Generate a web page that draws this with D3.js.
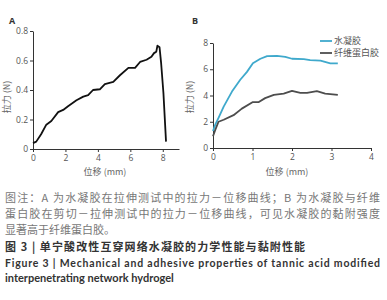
<!DOCTYPE html>
<html>
<head>
<meta charset="utf-8">
<script src="https://cdn.jsdelivr.net/npm/d3@7"></script>
<style>
  body { margin: 0; background: #fff; }
  svg { display: block; }
  .tick text { font-family: "Open Sans", "Noto Sans", sans-serif; font-size: 8.5px; fill: #555; }
  .tick line, .domain { stroke: #333; }
</style>
</head>
<body>
<svg id="fig" width="387" height="300"></svg>
<script>
// Panel A: tensile force vs displacement
var aX = [0, 0.2, 0.5, 0.82, 1.13, 1.55, 1.86, 2.16, 2.68, 3.1, 3.4, 3.7, 4.12, 4.43, 4.95, 5.36, 5.88, 6.29, 6.6, 7.0, 7.3, 7.46, 7.6, 7.67, 7.8, 7.9, 8.04, 8.2];
var aY = [0.04, 0.05, 0.10, 0.165, 0.19, 0.25, 0.265, 0.29, 0.33, 0.355, 0.365, 0.40, 0.405, 0.44, 0.455, 0.50, 0.55, 0.55, 0.59, 0.605, 0.625, 0.65, 0.66, 0.70, 0.69, 0.58, 0.38, 0.05];

// Panel B: shear-tensile force vs displacement
var bX = [0, 0.06, 0.14, 0.27, 0.48, 0.69, 0.86, 1.01, 1.2, 1.37, 1.62, 1.83, 2.0, 2.3, 2.46, 2.72, 2.97, 3.16];
var hydrogelY = [1.3, 1.8, 2.3, 3.15, 4.3, 5.2, 5.8, 6.45, 6.8, 7.0, 7.02, 6.95, 6.8, 6.77, 6.7, 6.65, 6.45, 6.45];
var fibrinX = [0, 0.06, 0.14, 0.27, 0.52, 0.73, 1.01, 1.16, 1.32, 1.54, 1.79, 2.0, 2.21, 2.38, 2.63, 2.84, 3.16];
var fibrinY = [0.9, 1.4, 2.0, 2.15, 2.5, 3.0, 3.5, 3.5, 3.8, 4.05, 4.15, 4.35, 4.2, 4.2, 4.33, 4.15, 4.05];

var aTicksX = [0, 2, 4, 6, 8];
var aTicksY = [0, 0.2, 0.4, 0.6, 0.8];
var bTicksX = [0, 1, 2, 3, 4];
var bTicksY = [0, 2, 4, 6, 8];
var seriesNames = ["水凝胶", "纤维蛋白胶"];
var seriesColors = ["#3fa9cc", "#4d4d4d"];

var captionLines = [
  "图注：A 为水凝胶在拉伸测试中的拉力－位移曲线；B 为水凝胶与纤维",
  "蛋白胶在剪切－拉伸测试中的拉力－位移曲线，可见水凝胶的黏附强度",
  "显著高于纤维蛋白胶。"
];
var titleCn = "图 3 | 单宁酸改性互穿网络水凝胶的力学性能与黏附性能";
var titleEn = ["Figure 3  |   Mechanical and adhesive properties of tannic acid modified", "interpenetrating network hydrogel"];

var svg = d3.select("#fig");
var cnFont = '"Noto Sans CJK SC", "Noto Sans", sans-serif';

// ---------- Panel A ----------
var xA = d3.scaleLinear().domain([0, 9]).range([33, 179]);
var yA = d3.scaleLinear().domain([0, 0.8]).range([149, 31]);

svg.append("g")
  .attr("transform", "translate(0," + yA(0) + ")")
  .call(d3.axisBottom(xA).tickValues(aTicksX).tickSize(3).tickSizeOuter(0).tickPadding(3)
    .tickFormat(d3.format("d")));
svg.append("g")
  .attr("transform", "translate(" + xA(0) + ",0)")
  .call(d3.axisLeft(yA).tickValues(aTicksY).tickSize(3).tickSizeOuter(0).tickPadding(2)
    .tickFormat(function(d) { return d === 0 ? "0" : d3.format(".1f")(d); }));

svg.append("path")
  .datum(d3.range(aX.length))
  .attr("fill", "none")
  .attr("stroke", "#111")
  .attr("stroke-width", 1.8)
  .attr("stroke-linejoin", "round")
  .attr("d", d3.line().x(function(i) { return xA(aX[i]); }).y(function(i) { return yA(aY[i]); }));

svg.append("text").attr("x", 9).attr("y", 24)
  .attr("font-family", "Open Sans, sans-serif").attr("font-weight", "bold")
  .attr("font-size", 9).attr("fill", "#333").text("A");

svg.append("text")
  .attr("transform", "translate(10,97) rotate(-90)")
  .attr("text-anchor", "middle").attr("font-family", cnFont)
  .attr("font-size", 9).attr("fill", "#666").text("拉力 (N)");

svg.append("text").attr("x", 105).attr("y", 175)
  .attr("text-anchor", "middle").attr("font-family", cnFont)
  .attr("font-size", 9).attr("fill", "#666").text("位移 (mm)");

// ---------- Panel B ----------
var xB = d3.scaleLinear().domain([0, 4]).range([213, 371]);
var yB = d3.scaleLinear().domain([0, 8]).range([148, 43]);

svg.append("g")
  .attr("transform", "translate(0," + yB(0) + ")")
  .call(d3.axisBottom(xB).tickValues(bTicksX).tickSize(3).tickSizeOuter(0).tickPadding(3)
    .tickFormat(d3.format("d")));
svg.append("g")
  .attr("transform", "translate(" + xB(0) + ",0)")
  .call(d3.axisLeft(yB).tickValues(bTicksY).tickSize(3).tickSizeOuter(0).tickPadding(2)
    .tickFormat(d3.format("d")));

var lineB = d3.line().x(function(d) { return xB(d[0]); }).y(function(d) { return yB(d[1]); });

svg.append("path")
  .datum(bX.map(function(v, i) { return [v, hydrogelY[i]]; }))
  .attr("fill", "none").attr("stroke", seriesColors[0]).attr("stroke-width", 1.8)
  .attr("stroke-linejoin", "round").attr("d", lineB);

svg.append("path")
  .datum(fibrinX.map(function(v, i) { return [v, fibrinY[i]]; }))
  .attr("fill", "none").attr("stroke", seriesColors[1]).attr("stroke-width", 1.8)
  .attr("stroke-linejoin", "round").attr("d", lineB);

svg.append("text").attr("x", 192).attr("y", 24)
  .attr("font-family", "Open Sans, sans-serif").attr("font-weight", "bold")
  .attr("font-size", 9).attr("fill", "#333").text("B");

svg.append("text")
  .attr("transform", "translate(193,97) rotate(-90)")
  .attr("text-anchor", "middle").attr("font-family", cnFont)
  .attr("font-size", 9).attr("fill", "#666").text("拉力 (N)");

svg.append("text").attr("x", 287).attr("y", 175)
  .attr("text-anchor", "middle").attr("font-family", cnFont)
  .attr("font-size", 9).attr("fill", "#666").text("位移 (mm)");

// Legend
var legend = svg.selectAll(".legend")
  .data(seriesNames)
  .enter()
  .append("g")
  .attr("class", "legend")
  .attr("transform", function(d, i) { return "translate(320," + (41 + i * 12) + ")"; });

legend.append("line")
  .attr("x1", 0).attr("x2", 12)
  .attr("stroke", function(d, i) { return seriesColors[i]; })
  .attr("stroke-width", 1.8);

legend.append("text")
  .attr("x", 14).attr("y", 3)
  .attr("font-family", cnFont).attr("font-size", 9).attr("fill", "#555")
  .text(function(d) { return d; });

// ---------- Caption ----------
var cap = svg.append("g");
captionLines.forEach(function(t, i) {
  var tx = cap.append("text")
    .attr("x", 5).attr("y", 202 + i * 16)
    .attr("font-family", cnFont).attr("font-size", 11).attr("fill", "#777")
    .text(t);
  if (i < 2) tx.attr("textLength", 375).attr("lengthAdjust", "spacing");
});

cap.append("text")
  .attr("x", 5).attr("y", 251)
  .attr("font-family", cnFont).attr("font-size", 11).attr("font-weight", "bold")
  .attr("fill", "#333").attr("textLength", 300).attr("lengthAdjust", "spacing")
  .text(titleCn);

// English title: Lato bold, second line sized so it ends where the reference does
cap.append("text")
  .attr("x", 5).attr("y", 267)
  .attr("font-family", "Lato, sans-serif").attr("font-size", 10.5)
  .attr("font-weight", "bold").attr("fill", "#333")
  .attr("textLength", 375).attr("lengthAdjust", "spacing")
  .text(titleEn[0]);

var en2 = cap.append("text")
  .attr("x", 5).attr("y", 282)
  .attr("font-family", "Lato, sans-serif").attr("font-size", 10.5)
  .attr("font-weight", "bold").attr("fill", "#333")
  .text(titleEn[1]);
var w2 = en2.node().getComputedTextLength();
if (w2 > 0) en2.attr("font-size", Math.min(11, 10.5 * 171 / w2));
</script>
</body>
</html>
